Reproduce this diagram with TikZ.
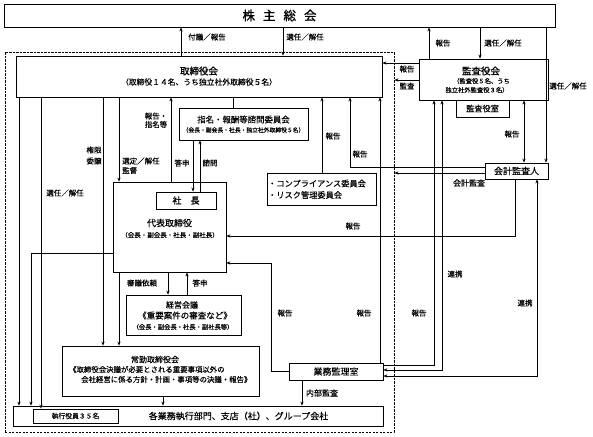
\documentclass[tikz,border=0pt]{standalone}
\usepackage{fontspec}
\setmainfont{Noto Sans CJK JP}[FakeBold=0.3]
\newfontfamily\titlefont{Noto Sans CJK JP}[FakeBold=1.2]
\usetikzlibrary{arrows.meta}
\begin{document}
\begin{tikzpicture}[x=1pt,y=-1pt,
  box/.style={draw, line width=0.75pt, inner sep=0pt, fill=white},
  fsz/.style={font=\fontsize{#1pt}{#1pt}\selectfont, inner sep=0pt},
  tsz/.style={font=\fontsize{#1pt}{#1pt}\titlefont, inner sep=0pt},
  lbl/.style={fsz=7.5},
  arr/.style={-{Stealth[length=4pt,width=3.2pt]}, line width=0.65pt},
  arrb/.style={{Stealth[length=4pt,width=3.2pt]}-{Stealth[length=4pt,width=3.2pt]}, line width=0.65pt},
  ln/.style={line width=0.65pt}]
\useasboundingbox (0,0) rectangle (593,436);
% dashed executive frame
\node[draw, line width=0.9pt, dash pattern=on 2.2pt off 1.3pt, inner sep=0pt,
      minimum width=389pt, minimum height=380pt] (exec) at (199.5,242) {};
% boxes
\node[box, minimum width=551pt, minimum height=23pt, tsz=12.5] (kab) at (279.5,15.5) {株\kern8pt主\kern8pt総\kern8pt会};
\node[box, minimum width=366pt, minimum height=41pt] (tb) at (199,76.5) {};
\node[tsz=9.5] (tbt) at (199,71) {取締役会};
\node[fsz=7.8] (tbs) at (199,82) {（取締役１４名、うち独立社外取締役５名）};
\node[box, minimum width=129pt, minimum height=41pt] (ka) at (483.5,79.5) {};
\node[tsz=9.5] (kat) at (481,71) {監査役会};
\node[fsz=6.3] (kas1) at (481.5,81) {（監査役５名、うち};
\node[fsz=6.3] (kas2) at (477,90) {独立社外監査役３名）};
\node[box, minimum width=53pt, minimum height=17pt, fsz=8.2] (kas) at (482.5,108.5) {監査役室};
\node[box, minimum width=63pt, minimum height=16pt, fsz=9] (kai) at (516.5,171) {会計監査人};
\node[box, minimum width=129pt, minimum height=32pt] (shi) at (243.5,124) {};
\node[fsz=8.4] (shit) at (243.5,119.5) {指名・報酬等諮問委員会};
\node[fsz=5.8] (shis) at (243.5,130) {（会長・副会長・社長・独立社外取締役５名）};
\node[box, minimum width=109pt, minimum height=32pt] (com) at (321.5,189) {};
\node[fsz=8.2, anchor=west] (com1) at (268,183.5) {・コンプライアンス委員会};
\node[fsz=8.2, anchor=west] (com2) at (268,195) {・リスク管理委員会};
\node[box, minimum width=113pt, minimum height=90pt] (dai) at (169.5,227) {};
\node[fsz=9] (dait) at (169.5,223) {代表取締役};
\node[fsz=6.5] (dais) at (170,235) {（会長・副会長・社長・副社長）};
\node[box, minimum width=60pt, minimum height=17pt, tsz=9] (sha) at (186,200.5) {社　長};
\node[box, minimum width=115pt, minimum height=40pt] (kei) at (183.5,315) {};
\node[fsz=8] (keit) at (182,305) {経営会議};
\node[fsz=8.5] (keis1) at (185,315.5) {《重要案件の審査など》};
\node[fsz=6.3] (keis2) at (183,327) {（会長・副会長・社長・副社長等）};
\node[box, minimum width=197pt, minimum height=50pt] (jou) at (160.5,371) {};
\node[fsz=8] (jout) at (155,359.5) {常勤取締役会};
\node[fsz=7.4, anchor=west] (jou1) at (69,369.5) {《取締役会決議が必要とされる重要事項以外の};
\node[fsz=7.4, anchor=west] (jou2) at (81,379.5) {会社経営に係る方針・計画・事項等の決議・報告》};
\node[box, minimum width=94pt, minimum height=17pt, fsz=9] (gyo) at (336,371.5) {業務監理室};
\node[box, minimum width=370pt, minimum height=20pt] (bot) at (198,416) {};
\node[fsz=9] (bott) at (238.5,416) {各業務執行部門、支店（社）、グループ会社};
\node[box, minimum width=85pt, minimum height=14pt, fsz=6.8] (shk) at (75.5,416) {執行役員３５名};
% connectors: shareholders meeting
\draw[arr] (tb.north -| 181,0) -- (kab.south -| 181,0);
\node[lbl] (l1) at (207,37) {付議／報告};
\draw[arr] (kab.south -| 283,0) -- (tb.north -| 283,0);
\node[lbl] (l2) at (305,37) {選任／解任};
\draw[arr] (ka.north -| 429,0) -- (kab.south -| 429,0);
\node[lbl] (l3) at (443,43) {報告};
\draw[arr] (kab.south -| 480,0) -- (ka.north -| 480,0);
\node[lbl] (l4) at (503,43) {選任／解任};
\draw[arr] (kab.south -| 546,0) -- (kai.north -| 546,0);
\node[lbl] (l5) at (568,86) {選任／解任};
% audit board
\draw[arr] (ka.west |- 0,63) -- (tb.east |- 0,63);
\node[lbl] (l6) at (407,69) {報告};
\draw[arr] (ka.west |- 0,80) -- (exec.east |- 0,80);
\node[lbl] (l7) at (407,86) {監査};
\draw[arrb] (ka.south -| 524,0) -- (kai.north -| 524,0);
\node[lbl] (l8) at (512,134) {報告};
% accounting auditor
\draw[arr] (kai.west |- 0,173) -- (exec.east |- 0,173);
\node[fsz=8] (l9) at (469,183) {会計監査};
\draw[arr] (kai.west |- 0,167) -| (tb.south -| 350,0);
\node[lbl] (l10) at (360,154) {報告};
\draw[arr] (com.north -| 322,0) -- (tb.south -| 322,0);
\node[lbl] (l11) at (333,136) {報告};
\draw[arr] (kai.south -| 515,0) |- (dai.east |- 0,236);
\node[lbl] (l12) at (353,226) {報告};
\draw[arrb] (kai.south -| 537,0) |- (gyo.east |- 0,376);
\node[lbl] (l13) at (525,303) {連携};
% internal audit office
\draw[arrb] (ka.south -| 442,0) |- (gyo.east |- 0,370);
\node[lbl] (l14) at (455,274) {連携};
\draw[arr] (gyo.east |- 0,365) -| (ka.south -| 434,0);
\node[lbl] (l15) at (419,313) {報告};
\draw[arr] (gyo.north -| 380,0) -- (tb.south -| 380,0);
\node[lbl] (l16) at (364,313) {報告};
\draw[arr] (gyo.west) -- (271,371.5) -- (271,263) -- (dai.east |- 0,263);
\node[lbl] (l17) at (285,313) {報告};
\draw[arr] (gyo.south -| 302,0) -- (bot.north -| 302,0);
\node[fsz=8] (l18) at (322,393) {内部監査};
% nomination committee
\draw[ln] (tb.south -| 233,0) -- (shi.north -| 233,0);
\draw[arr] (shi.south -| 193,0) -- (sha.north -| 193,0);
\draw[arr] (sha.north -| 200,0) -- (shi.south -| 200,0);
\node[lbl] (l19) at (182,163) {答申};
\node[lbl] (l20) at (210,163) {諮問};
% representative director
\draw[arr] (dai.north -| 171,0) -- (tb.south -| 171,0);
\node[lbl] (l21) at (156,116) {報告・};
\node[lbl] (l22) at (156,124.5) {指名等};
\draw[arr] (tb.south -| 119,0) -- (dai.north -| 119,0);
\node[lbl, anchor=west] (l23) at (122,161) {選定／解任};
\node[lbl, anchor=west] (l24) at (122,170.5) {監督};
\draw[arr] (tb.south -| 103,0) -- (jou.north -| 103,0);
\node[lbl] (l25) at (94,150) {権限};
\node[lbl] (l26) at (94,161) {委譲};
\draw[arr] (tb.south -| 19,0) -- (bot.north -| 19,0);
\draw[arr] (tb.south -| 41,0) -- (shk.north -| 41,0);
\node[lbl] (l27) at (65,193) {選任／解任};
\draw[arr] (dai.west |- 0,253) -| (bot.north -| 31,0);
\draw[arr] (dai.south -| 119,0) -- (jou.north -| 119,0);
\draw[arr] (dai.south -| 168,0) -- (kei.north -| 168,0);
\draw[arr] (kei.north -| 187,0) -- (dai.south -| 187,0);
\node[lbl] (l28) at (142,283) {審議依頼};
\node[lbl] (l29) at (200,283) {答申};
\draw[arr] (jou.south -| 163,0) -- (bot.north -| 163,0);
\end{tikzpicture}
\end{document}
